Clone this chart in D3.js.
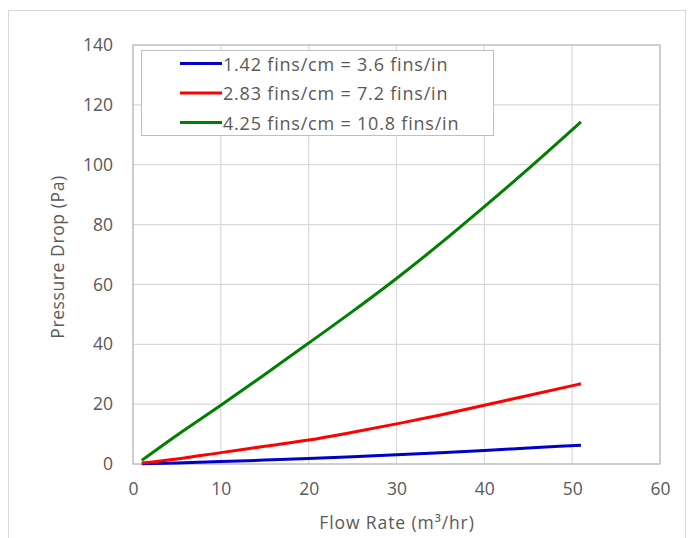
<!DOCTYPE html>
<html>
<head>
<meta charset="utf-8">
<script src="https://cdn.jsdelivr.net/npm/d3@7"></script>
<style>
  body { margin: 0; background: #fff; }
  text { font-family: "Open Sans", Lato, sans-serif; fill: #595959; }
</style>
</head>
<body>
<svg id="chart" width="691" height="538"></svg>
<script>
// flow rate (m3/hr)
const flow = [1, 5, 10, 15, 20, 25, 30, 35, 40, 45, 51]
const dp142 = [0.1, 0.35, 0.8, 1.3, 1.85, 2.45, 3.1, 3.8, 4.55, 5.35, 6.3]
const dp283 = [0.3, 1.7, 3.8, 5.9, 8.0, 10.6, 13.4, 16.4, 19.6, 22.9, 26.8]
const dp425 = [1.2, 9.6, 19.6, 29.9, 40.4, 51.0, 62.0, 73.7, 86.0, 98.6, 114.3]
const seriesNames = ['1.42 fins/cm = 3.6 fins/in', '2.83 fins/cm = 7.2 fins/in', '4.25 fins/cm = 10.8 fins/in']
const xTicks = [0, 10, 20, 30, 40, 50, 60]
const yTicks = [0, 20, 40, 60, 80, 100, 120, 140]

let series = [
    {name: seriesNames[0], values: dp142, color: '#0000cc'},
    {name: seriesNames[1], values: dp283, color: '#ff0000'},
    {name: seriesNames[2], values: dp425, color: '#008000'}
]

let svg = d3.select('#chart')

// outer frame
svg.append('rect')
.attr('x', 8.5).attr('y', 10.5)
.attr('width', 677).attr('height', 540)
.attr('fill', 'none')
.attr('stroke', '#d9d9d9')

let x = d3.scaleLinear().domain([0, 60]).range([133, 660])
let y = d3.scaleLinear().domain([0, 140]).range([464, 45])

// grid
svg.append('g')
.selectAll('line.vgrid')
.data(xTicks)
.enter()
.append('line')
.attr('x1', d => x(d)).attr('x2', d => x(d))
.attr('y1', y(0)).attr('y2', y(140))
.attr('stroke', '#d9d9d9')
.attr('stroke-width', 1.2)

svg.append('g')
.selectAll('line.hgrid')
.data(yTicks)
.enter()
.append('line')
.attr('x1', x(0)).attr('x2', x(60))
.attr('y1', d => y(d)).attr('y2', d => y(d))
.attr('stroke', '#d9d9d9')
.attr('stroke-width', 1.2)

// plot border
svg.append('rect')
.attr('x', x(0)).attr('y', y(140))
.attr('width', x(60) - x(0)).attr('height', y(0) - y(140))
.attr('fill', 'none')
.attr('stroke', '#bfbfbf')
.attr('stroke-width', 1.3)

// axes labels
let xAxis = svg.append('g')
.attr('transform', `translate(0,${y(0)})`)
.call(d3.axisBottom(x).tickValues(xTicks).tickSize(0).tickPadding(19))
xAxis.select('.domain').remove()
xAxis.selectAll('text').attr('font-size', 17.5).attr('fill', '#595959').attr('font-family', '"Open Sans", sans-serif')

let yAxis = svg.append('g')
.attr('transform', `translate(${x(0)},0)`)
.call(d3.axisLeft(y).tickValues(yTicks).tickSize(0).tickPadding(20))
yAxis.select('.domain').remove()
yAxis.selectAll('text').attr('font-size', 17.5).attr('fill', '#595959').attr('font-family', '"Open Sans", sans-serif')

svg.append('text')
.attr('x', 397).attr('y', 529)
.attr('text-anchor', 'middle')
.attr('font-size', 17.5)
.attr('letter-spacing', 0.9)
.text('Flow Rate (m³/hr)')

svg.append('text')
.attr('transform', 'translate(64,257) rotate(-90)')
.attr('text-anchor', 'middle')
.attr('font-size', 17.5)
.attr('letter-spacing', 0.6)
.text('Pressure Drop (Pa)')

// lines
let line = d3.line()
.x((d, i) => x(flow[i]))
.y(d => y(d))
.curve(d3.curveMonotoneX)

svg.selectAll('path.series')
.data(series)
.enter()
.append('path')
.attr('class', 'series')
.attr('d', d => line(d.values))
.attr('fill', 'none')
.attr('stroke', d => d.color)
.attr('stroke-width', 3)

// legend
let legend = svg.append('g')
legend.append('rect')
.attr('x', 141.5).attr('y', 50.5)
.attr('width', 352).attr('height', 85)
.attr('fill', '#fff')
.attr('stroke', '#bfbfbf')

let items = legend.selectAll('g.item')
.data(series)
.enter()
.append('g')
.attr('transform', (d, i) => `translate(0,${63.5 + 29.5 * i})`)

items.append('line')
.attr('x1', 180).attr('x2', 222)
.attr('stroke', d => d.color)
.attr('stroke-width', 3)

items.append('text')
.attr('x', 223)
.attr('dominant-baseline', 'central')
.attr('font-size', 18)
.attr('letter-spacing', 0.8)
.text(d => d.name)
</script>
</body>
</html>
